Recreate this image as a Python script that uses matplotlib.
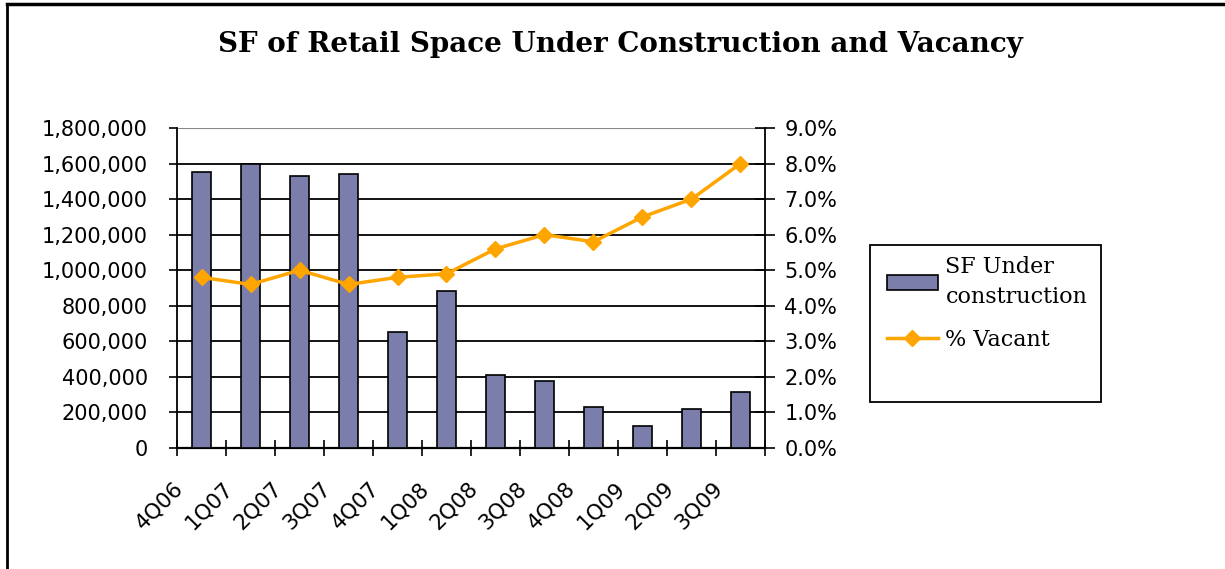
import matplotlib
matplotlib.use('Agg')
import numpy as np
import matplotlib.pyplot as plt
import matplotlib.transforms as mtransforms
from matplotlib.patches import Rectangle
from matplotlib.ticker import FuncFormatter

# data
quarters = ['4Q06', '1Q07', '2Q07', '3Q07', '4Q07', '1Q08',
            '2Q08', '3Q08', '4Q08', '1Q09', '2Q09', '3Q09']
sf_under_construction = [1555000, 1597000, 1532000, 1543000, 654000, 885000,
                         409000, 377000, 229000, 124000, 218000, 313000]
pct_vacant = [4.8, 4.6, 5.0, 4.6, 4.8, 4.9, 5.6, 6.0, 5.8, 6.5, 7.0, 8.0]

bar_color = '#7B7DAB'
line_color = '#FFA500'
tick_font = 'DejaVu Sans'

W, H = 1225, 569
fig = plt.figure(figsize=(W/100, H/100), dpi=100)

# outer frame (left and top only visible)
fig.add_artist(plt.Line2D([7/W, 7/W], [0, 1-4/H], transform=fig.transFigure, color='black', lw=2))
fig.add_artist(plt.Line2D([7/W, 1], [1-4/H, 1-4/H], transform=fig.transFigure, color='black', lw=2.5))

ax = fig.add_axes([177/W, 1-448/H, 588/W, 320/H])
x = np.arange(len(quarters))
ax.bar(x, sf_under_construction, width=0.4, color=bar_color, edgecolor='black', lw=1.2,
       label='SF Under\nconstruction', zorder=3)
ax.set_xlim(-0.5, len(quarters)-0.5)
ax.set_ylim(0, 1800000)
ax.set_yticks(np.arange(0, 1800001, 200000))
ax.yaxis.set_major_formatter(FuncFormatter(lambda v, p: '{:,.0f}'.format(v)))
for v in np.arange(200000, 1800000, 200000):
    ax.axhline(v, color='black', lw=1.3, zorder=1)
ax.axhline(1800000, color='#888888', lw=1.5, zorder=1)

ax.set_xticks(np.arange(-0.5, len(quarters)))
ax.set_xticklabels([])
ax.tick_params(axis='x', direction='inout', length=12, width=1.2)
ax.tick_params(axis='y', direction='out', length=6, width=1.2, labelsize=15, pad=15)
for lab in ax.get_yticklabels():
    lab.set_fontfamily(tick_font)
for s in ['top', 'right']:
    ax.spines[s].set_visible(False)
ax.spines['left'].set_linewidth(1.3)
ax.spines['bottom'].set_linewidth(1.6)

# category labels, rotated
offset = mtransforms.ScaledTranslation(-14/100, -30/100, fig.dpi_scale_trans)
for i, q in enumerate(quarters):
    ax.text(i, 0, q, rotation=45, ha='right', va='top', fontsize=15.5, family=tick_font,
            transform=mtransforms.blended_transform_factory(ax.transData, ax.transAxes) + offset)

ax2 = ax.twinx()
ax2.plot(x, pct_vacant, color=line_color, lw=2.5, marker='D', markersize=8,
         label='% Vacant', zorder=4)
ax2.set_ylim(0, 9)
ax2.set_yticks(np.arange(0, 9.01, 1))
ax2.yaxis.set_major_formatter(FuncFormatter(lambda v, p: '{:.1f}%'.format(v)))
ax2.tick_params(axis='y', direction='inout', length=14, width=1.2, labelsize=15, pad=7)
for lab in ax2.get_yticklabels():
    lab.set_fontfamily(tick_font)
for s in ['top', 'left', 'bottom']:
    ax2.spines[s].set_visible(False)
ax2.spines['right'].set_linewidth(1.3)

# legend
h1, l1 = ax.get_legend_handles_labels()
h2, l2 = ax2.get_legend_handles_labels()
leg = fig.legend(h1 + h2, l1 + l2, loc='upper left', bbox_to_anchor=(871/W, 1-240/H),
                 frameon=False, prop={'family': 'DejaVu Serif', 'size': 16},
                 handlelength=2.3, handletextpad=0.35, labelspacing=0.95, borderpad=0.2)
leg.get_texts()[0].set_linespacing(1.5)
fig.add_artist(Rectangle((870/W, 1-402/H), 231/W, 157/H, transform=fig.transFigure,
                         fill=False, edgecolor='black', lw=1.3))

fig.text(620/W, 1-44/H, 'SF of Retail Space Under Construction and Vacancy',
         ha='center', va='center', fontsize=20, fontweight='bold', family='DejaVu Serif')

fig.savefig('out.png', dpi=100)
